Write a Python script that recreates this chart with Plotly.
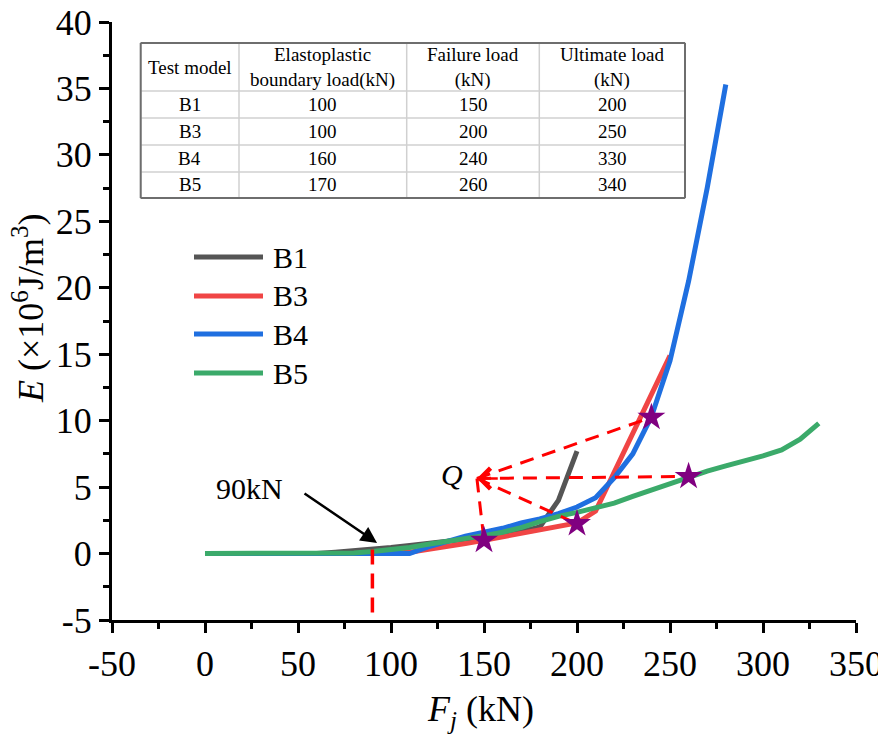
import plotly.graph_objects as go

# ---------------- data ----------------
b1_x = [0, 10, 20, 30, 40, 50, 60, 70, 80, 90, 100, 110, 120, 130, 140, 150, 160, 170, 180, 190, 200]
b1_y = [0, 0, 0, 0, 0, 0, 0, 0.1, 0.2, 0.3, 0.45, 0.6, 0.75, 0.9, 1.05, 1.2, 1.4, 1.65, 2.0, 4.0, 7.7]

b3_x = [0, 10, 20, 30, 40, 50, 60, 70, 80, 90, 100, 110, 120, 130, 140, 150, 160, 170, 180, 190, 200,
        210, 220, 230, 240, 250]
b3_y = [0, 0, 0, 0, 0, 0, 0, 0, 0, 0, 0.02, 0.1, 0.3, 0.5, 0.75, 1.0, 1.25, 1.5, 1.8, 2.05, 2.3,
        3.2, 6.1, 9.1, 12.0, 14.9]

b4_x = [0, 10, 20, 30, 40, 50, 60, 70, 80, 90, 100, 110, 120, 130, 140, 150, 160, 170, 180, 190, 200,
        210, 220, 230, 240, 250, 260, 270, 280]
b4_y = [0, 0, 0, 0, 0, 0, 0, 0, 0, 0, 0, 0, 0.5, 0.9, 1.3, 1.6, 1.9, 2.3, 2.6, 3.0, 3.5,
        4.2, 5.7, 7.5, 10.3, 14.5, 20.5, 27.5, 35.3]

b5_x = [0, 10, 20, 30, 40, 50, 60, 70, 80, 90, 100, 110, 120, 130, 140, 150, 160, 170, 180, 190, 200,
        210, 220, 230, 240, 250, 260, 270, 280, 290, 300, 310, 320, 330]
b5_y = [0, 0, 0, 0, 0, 0, 0, 0, 0.05, 0.15, 0.3, 0.45, 0.7, 0.9, 1.1, 1.35, 1.6, 1.95, 2.4, 2.8, 3.1,
        3.45, 3.8, 4.3, 4.8, 5.3, 5.75, 6.2, 6.6, 6.95, 7.35, 7.8, 8.6, 9.8]

series_names = ["B1", "B3", "B4", "B5"]
series_colors = ["#555555", "#F04545", "#1F6FE0", "#3BAA6A"]

# failure-load points (stars) and convergence point Q
star_x = [150, 200, 240, 260]
star_y = [1.0, 2.25, 10.25, 5.8]
q_x = 146.2
q_y = 5.65

boundary_load = 90  # kN

x_ticks = [-50, 0, 50, 100, 150, 200, 250, 300, 350]
y_ticks = [-5, 0, 5, 10, 15, 20, 25, 30, 35, 40]

table_header = ["Test model", "Elastoplastic<br>boundary load(kN)", "Failure load<br>(kN)", "Ultimate load<br>(kN)"]
table_models = ["B1", "B3", "B4", "B5"]
table_elastoplastic = [100, 100, 160, 170]
table_failure = [150, 200, 240, 260]
table_ultimate = [200, 250, 330, 340]

# ---------------- layout helpers ----------------
OFF = 8  # page body margin
W, H = 886 - OFF, 745 - OFF
ML, MR, MT, MB = 104, 30, 14, 125
PW, PH = W - ML - MR, H - MT - MB


def px(x):
    """screen pixel x -> paper"""
    return (x - OFF - ML) / PW


def py(y):
    """screen pixel y -> paper"""
    return 1 - (y - OFF - MT) / PH


FONT = "Liberation Serif, Times New Roman, serif"

fig = go.Figure()

xs = [b1_x, b3_x, b4_x, b5_x]
ys = [b1_y, b3_y, b4_y, b5_y]
for name, col, x, y in zip(series_names, series_colors, xs, ys):
    fig.add_trace(go.Scatter(x=x, y=y, mode="lines", name=name,
                             line=dict(color=col, width=5), showlegend=False))

# red dashed vertical line at boundary load
fig.add_trace(go.Scatter(x=[boundary_load, boundary_load], y=[0.3, -5], mode="lines",
                         line=dict(color="#FF0000", width=3.5, dash="15px,9px"),
                         showlegend=False, cliponaxis=False))

# dashed lines from Q to each star
for sx, sy in zip(star_x, star_y):
    fig.add_trace(go.Scatter(x=[q_x, sx], y=[q_y, sy], mode="lines",
                             line=dict(color="#FF0000", width=3, dash="14px,9px"),
                             showlegend=False))

# stars
fig.add_trace(go.Scatter(x=star_x, y=star_y, mode="markers",
                         marker=dict(symbol="star", size=21, color="#800080"),
                         showlegend=False))

# arrowhead at Q
fig.add_annotation(x=q_x, y=q_y, ax=q_x + 12, ay=q_y, axref="x", ayref="y",
                   xref="x", yref="y", text="", showarrow=True,
                   arrowhead=4, arrowsize=1.6, arrowwidth=2.5, arrowcolor="#FF0000")

# Q label
fig.add_annotation(x=px(452), y=py(474), xref="paper", yref="paper", text="<i>Q</i>",
                   xanchor="center", yanchor="middle",
                   showarrow=False, font=dict(family=FONT, size=30, color="black"))

# 90kN arrow and label
fig.add_annotation(x=boundary_load + 2.5, y=0.8, ax=52.7, ay=4.6, axref="x", ayref="y",
                   xref="x", yref="y", text="", showarrow=True,
                   arrowhead=2, arrowsize=1.3, arrowwidth=2.5, arrowcolor="black")
fig.add_annotation(x=px(249), y=py(488), xref="paper", yref="paper", text=f"{boundary_load}kN",
                   xanchor="center", yanchor="middle",
                   showarrow=False, font=dict(family=FONT, size=30, color="black"))

# manual legend
leg_y = [257, 296, 334, 373]
for name, col, ly in zip(series_names, series_colors, leg_y):
    fig.add_shape(type="line", xref="paper", yref="paper",
                  x0=px(194), x1=px(263), y0=py(ly), y1=py(ly),
                  line=dict(color=col, width=5))
    fig.add_annotation(x=px(271), y=py(ly), xref="paper", yref="paper", text=name,
                       xanchor="left", yanchor="middle", showarrow=False,
                       font=dict(family=FONT, size=30, color="black"))

# table
TX = [140.7, 239, 406.7, 539.3, 685]
TY = [43, 91, 118, 145, 172, 198]
fig.add_shape(type="rect", xref="paper", yref="paper",
              x0=px(TX[0]), x1=px(TX[-1]), y0=py(TY[0]), y1=py(TY[-1]),
              fillcolor="white", line=dict(color="#D0D0D0", width=1.5), layer="above")
for yy in TY[1:-1]:
    fig.add_shape(type="line", xref="paper", yref="paper",
                  x0=px(TX[0]), x1=px(TX[-1]), y0=py(yy), y1=py(yy),
                  line=dict(color="#D0D0D0", width=1.5))
for xx in TX[1:-1]:
    fig.add_shape(type="line", xref="paper", yref="paper",
                  x0=px(xx), x1=px(xx), y0=py(TY[0]), y1=py(TY[-1]),
                  line=dict(color="#D0D0D0", width=1.5))
# dark outer border (left, right, bottom, top)
for (x0, y0, x1, y1) in [(TX[0], TY[0], TX[0], TY[-1]), (TX[-1], TY[0], TX[-1], TY[-1]),
                         (TX[0], TY[-1], TX[-1], TY[-1]), (TX[0], TY[0], TX[-1], TY[0])]:
    fig.add_shape(type="line", xref="paper", yref="paper",
                  x0=px(x0), x1=px(x1), y0=py(y0), y1=py(y1),
                  line=dict(color="#6E6E6E", width=2))

col_cx = [(TX[i] + TX[i + 1]) / 2 for i in range(4)]
for i, h in enumerate(table_header):
    fig.add_annotation(x=px(col_cx[i]), y=py((TY[0] + TY[1]) / 2), xref="paper", yref="paper",
                       text=h, showarrow=False, align="center",
                       xanchor="center", yanchor="middle",
                       font=dict(family=FONT, size=19, color="black"))
rows = list(zip(table_models, table_elastoplastic, table_failure, table_ultimate))
for r, row in enumerate(rows):
    cy = (TY[r + 1] + TY[r + 2]) / 2
    for c, val in enumerate(row):
        fig.add_annotation(x=px(col_cx[c]), y=py(cy), xref="paper", yref="paper",
                           text=str(val), showarrow=False,
                           xanchor="center", yanchor="middle",
                           font=dict(family=FONT, size=19, color="black"))

# axis titles
fig.add_annotation(x=px(28), y=py(308), xref="paper", yref="paper",
                   text="<i>E</i> (×10<sup>6</sup>J/m<sup>3</sup>)", textangle=-90,
                   xanchor="center", yanchor="middle", showarrow=False,
                   font=dict(family=FONT, size=36, color="black"))
fig.add_annotation(x=px(480), y=py(712), xref="paper", yref="paper",
                   text="<i>F<sub>j</sub></i> (kN)",
                   xanchor="center", yanchor="middle", showarrow=False,
                   font=dict(family=FONT, size=36, color="black"))

fig.update_layout(
    width=W, height=H,
    margin=dict(l=ML, r=MR, t=MT, b=MB, autoexpand=False),
    paper_bgcolor="white", plot_bgcolor="white",
    font=dict(family=FONT, color="black"),
    showlegend=False,
)

fig.update_xaxes(
    range=[-50, 350], tickmode="array", tickvals=x_ticks,
    ticktext=[str(v) for v in x_ticks], automargin=False, ticklabeloverflow="allow",
    showgrid=False, zeroline=False, showline=True, linecolor="black", linewidth=3,
    ticks="outside", ticklen=10, tickwidth=2.5, tickcolor="black",
    tickfont=dict(family=FONT, size=36, color="black"),
    minor=dict(tickmode="linear", tick0=-50, dtick=25, ticks="outside", ticklen=6,
               tickwidth=2.5, tickcolor="black", showgrid=False),
)
fig.update_yaxes(
    range=[-5, 40], tickmode="array", tickvals=y_ticks,
    ticktext=[str(v) for v in y_ticks], automargin=False, ticklabeloverflow="allow",
    showgrid=False, zeroline=False, showline=True, linecolor="black", linewidth=3,
    ticks="outside", ticklen=10, tickwidth=2.5, tickcolor="black",
    tickfont=dict(family=FONT, size=36, color="black"),
    minor=dict(tickmode="linear", tick0=-5, dtick=2.5, ticks="outside", ticklen=6,
               tickwidth=2.5, tickcolor="black", showgrid=False),
)

fig.write_html("out.html")
